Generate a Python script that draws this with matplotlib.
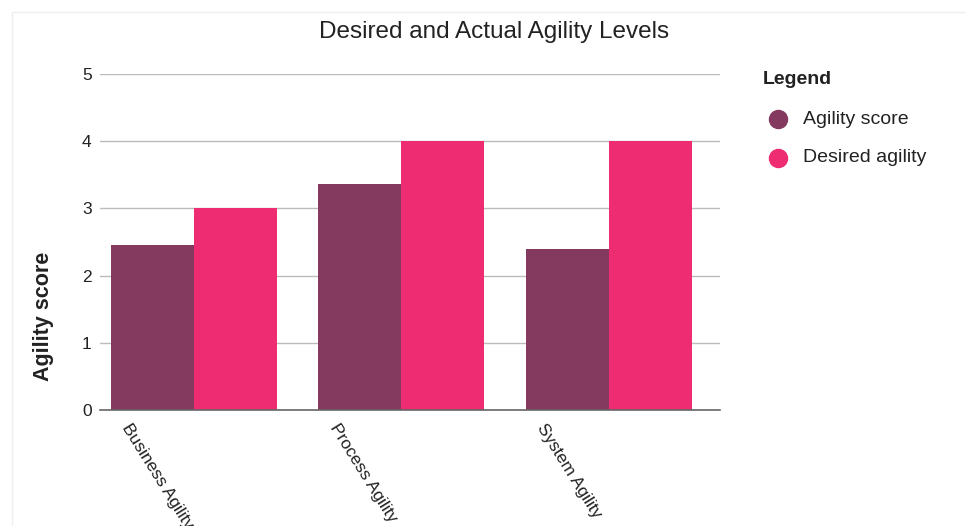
import matplotlib

matplotlib.use("Agg")
import matplotlib.pyplot as plt
import matplotlib.transforms as mtransforms
from matplotlib.lines import Line2D
from matplotlib.patches import Rectangle
import numpy as np

categories = ["Business Agility", "Process Agility", "System Agility"]
agility_score = [2.46, 3.36, 2.39]
desired_agility = [3.0, 4.0, 4.0]
series_names = ["Agility score", "Desired agility"]
y_ticks = [0, 1, 2, 3, 4, 5]

ACTUAL_COLOR = "#843A5F"
DESIRED_COLOR = "#EE2C72"
TEXT_COLOR = "#222222"

plt.rcParams["font.family"] = ["Liberation Sans", "DejaVu Sans"]

fig = plt.figure(figsize=(9.66, 5.26), dpi=100)
fig.patches.append(Rectangle((12 / 966, -0.1), 1.2, 1.1 - 12 / 526, transform=fig.transFigure,
                             fill=False, edgecolor="#eeeeee", linewidth=1.0))

ax = fig.add_axes([100 / 966, 1 - 410 / 526, 620 / 966, 336 / 526])
x = np.arange(len(categories))
width = 0.4
ax.bar(x - width / 2, agility_score, width, color=ACTUAL_COLOR)
ax.bar(x + width / 2, desired_agility, width, color=DESIRED_COLOR)

ax.set_xlim(-0.453, len(categories) - 1 + 0.535)
ax.set_ylim(0, 5)
ax.set_yticks(y_ticks)
ax.tick_params(axis="y", length=0, pad=6, labelsize=12.5, colors=TEXT_COLOR)
ax.yaxis.grid(True, color="#bbbbbb", linewidth=1.0)
ax.set_axisbelow(True)
for side in ["top", "right", "left"]:
    ax.spines[side].set_visible(False)
ax.spines["bottom"].set_color("#666666")
ax.spines["bottom"].set_linewidth(1.2)

ax.set_xticks(x)
ax.set_xticklabels(categories, rotation=-58, ha="left", va="top", rotation_mode="anchor",
                   fontsize=12.5, color=TEXT_COLOR)
ax.tick_params(axis="x", length=0, pad=8)
offset = mtransforms.ScaledTranslation(-62 / 100, 0, fig.dpi_scale_trans)
for lbl in ax.get_xticklabels():
    lbl.set_transform(lbl.get_transform() + offset)

fig.text(43 / 966, 1 - 316 / 526, "Agility score", rotation=90, ha="center", va="center",
         fontsize=15.5, fontweight="bold", color=TEXT_COLOR)
fig.text(494 / 966, 1 - 32 / 526, "Desired and Actual Agility Levels", ha="center", va="center",
         fontsize=17.5, color=TEXT_COLOR)

# legend drawn by hand so it lines up with the reference
fig.text(763 / 966, 1 - 79 / 526, "Legend", ha="left", va="center",
         fontsize=14, fontweight="bold", color=TEXT_COLOR)
for i, (name, color) in enumerate(zip(series_names, [ACTUAL_COLOR, DESIRED_COLOR])):
    yy = 1 - (119 + 39 * i) / 526
    fig.add_artist(Line2D([778 / 966], [yy], marker="o", markersize=13, linestyle="",
                          color=color, transform=fig.transFigure))
    fig.text(803 / 966, yy, name, ha="left", va="center", fontsize=14, color=TEXT_COLOR)

fig.savefig("out.png", dpi=100)
